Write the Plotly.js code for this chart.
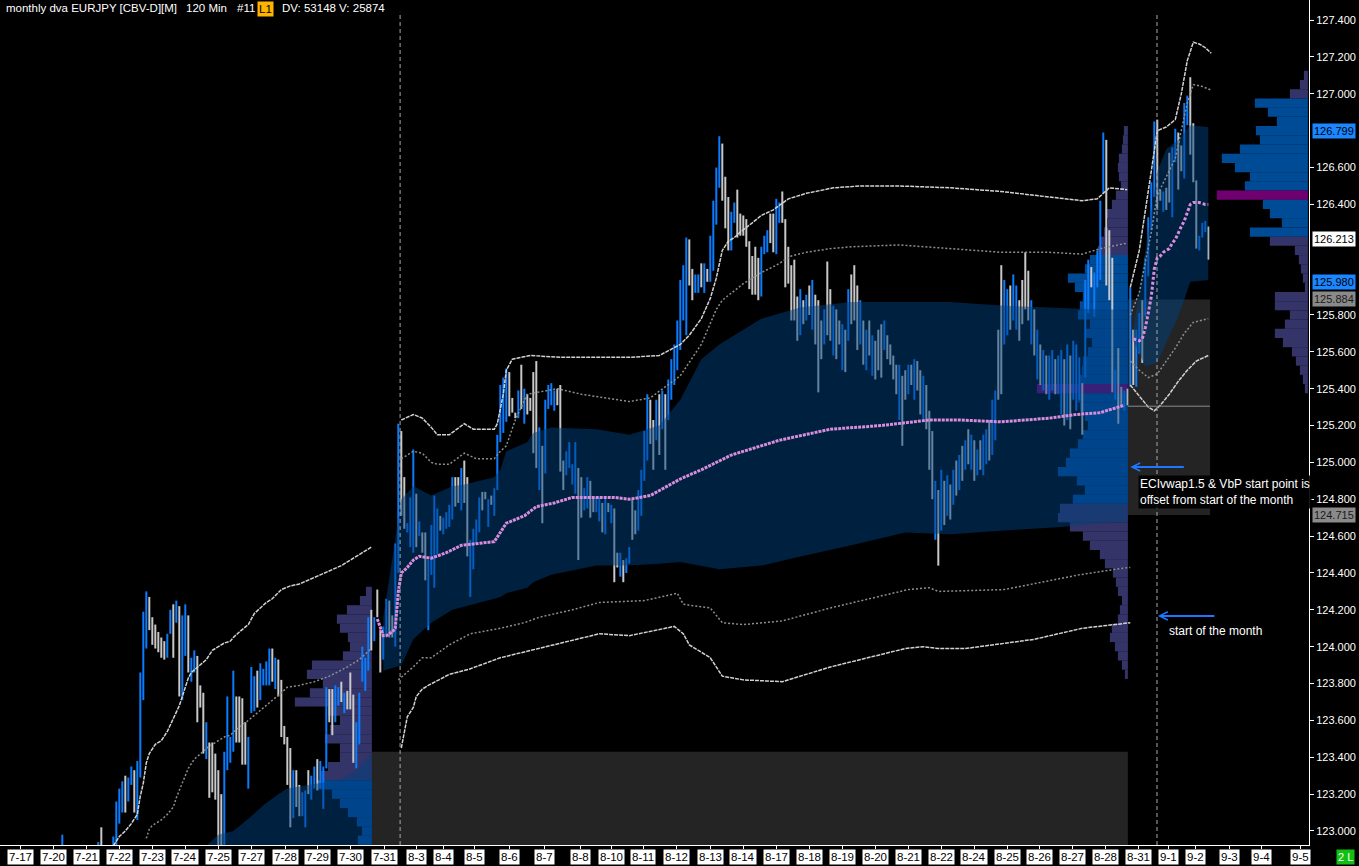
<!DOCTYPE html>
<html><head><meta charset="utf-8">
<script src="https://cdn.plot.ly/plotly-3.0.1.min.js"></script>
<style>html,body{margin:0;padding:0;background:#000;}#chart{width:1359px;height:866px;}</style>
</head><body><div id="chart"></div>
<script>
// ---------- DATA ----------
// x positions are 120-minute bar slots (bar index)
const dateLabels = ['7-17','7-20','7-21','7-22','7-23','7-24','7-25','7-27','7-28','7-29','7-30','7-31','8-3','8-4','8-5','8-6','8-7','8-8','8-10','8-11','8-12','8-13','8-14','8-17','8-18','8-19','8-20','8-21','8-22','8-24','8-25','8-26','8-27','8-28','8-31','9-1','9-2','9-3','9-4','9-5'];
const dateSlots = [5.9,17.1,28.2,39.1,50.1,60.9,72.1,83.2,94.5,105.2,116.0,127.5,137.9,146.9,157.4,168.9,180.6,192.6,203.1,213.6,224.6,235.9,246.9,257.9,268.9,279.9,291.2,302.1,312.9,323.9,335.2,345.9,356.9,367.9,378.9,388.9,397.6,409.0,419.9,432.6];
// price ticks shown on the axis (others are covered by the highlighted labels)
const priceTicks = [123.0,123.2,123.4,123.6,123.8,124.0,124.2,124.4,124.6,124.8,125.0,125.2,125.4,125.6,125.8,126.4,126.6,127.0,127.2,127.4];

const firstBarSlot = 20;
const barHigh = [
122.98,null,null,null,null,null,null,null,null,null,null,null,122.94,123.02,null,null,null,
122.97,123.16,123.23,123.27,123.30,123.29,123.35,123.33,123.38,123.86,
124.19,124.30,124.27,124.16,124.12,124.08,124.05,124.03,124.07,124.20,
124.23,124.25,124.22,124.17,124.23,124.17,123.94,123.98,123.95,123.79,
123.75,123.59,123.48,123.48,123.42,123.33,123.20,123.43,123.73,123.51,
123.87,123.73,123.73,123.72,123.59,123.51,123.89,123.84,123.87,123.91,
123.88,123.92,123.99,123.99,123.94,123.93,123.82,123.57,123.51,123.45,
123.33,123.33,123.25,123.21,123.22,123.33,123.30,123.35,123.39,123.38,
123.35,123.78,123.77,123.77,123.79,123.78,123.81,123.75,123.76,123.86,
123.74,123.59,123.75,124.00,123.94,124.16,124.20,124.16,124.31,124.09,
124.11,124.26,124.25,124.17,124.56,125.21,125.17,124.92,124.67,124.81,
125.07,124.83,124.68,124.62,124.62,124.47,124.66,124.82,124.75,124.71,
124.70,124.73,124.77,124.92,124.92,124.92,124.97,125.01,124.92,124.58,
124.64,124.69,124.81,124.84,124.84,124.80,124.82,124.86,125.15,125.42,
125.46,125.51,125.49,125.35,125.27,125.39,125.53,125.40,125.37,125.35,
125.49,125.55,125.19,125.09,125.34,125.42,125.43,125.39,125.40,125.42,
125.01,125.06,125.11,124.99,125.11,124.97,124.92,124.86,124.92,124.90,
124.81,124.81,124.81,124.78,124.81,124.78,124.77,124.75,124.51,124.51,
124.47,124.48,124.54,124.80,124.74,124.85,124.96,125.17,125.37,125.34,
125.23,125.34,125.37,125.39,125.37,125.45,125.56,125.64,125.77,125.99,
126.07,126.22,126.21,126.05,126.02,126.02,126.08,126.08,126.05,126.23,
126.42,126.60,126.77,126.73,126.55,126.44,126.36,126.41,126.48,126.35,
126.34,126.32,126.20,126.12,126.17,126.11,126.17,126.23,126.26,126.35,
126.35,126.43,126.41,126.47,126.32,126.17,126.07,126.10,125.90,125.94,
125.88,125.91,125.96,125.99,125.91,125.88,125.77,125.83,126.09,125.94,
125.85,125.83,125.77,125.75,125.72,125.94,126.02,126.07,125.96,125.88,
125.77,125.72,125.77,125.69,125.66,125.72,125.75,125.77,125.69,125.64,
125.58,125.53,125.53,125.47,125.50,125.53,125.53,125.56,125.55,125.50,
125.47,125.42,125.28,125.17,124.90,124.85,124.96,124.90,124.93,124.88,
124.96,125.01,125.04,125.09,125.12,125.18,125.15,125.12,125.07,125.12,
125.15,125.18,125.23,125.34,125.39,125.72,126.07,125.99,125.94,125.96,
126.02,125.96,125.88,125.99,126.14,126.04,125.88,125.83,125.72,125.64,
125.61,125.58,125.58,125.61,125.56,125.58,125.61,125.56,125.64,125.58,
125.66,125.64,125.57,125.43,125.99,126.10,126.06,126.03,126.15,126.42,
126.79,126.75,126.26,126.11,125.50,125.62,125.41,125.39,125.40,125.95,
125.72,125.72,125.81,125.88,126.11,126.33,126.52,126.85,126.86,126.48,
126.47,126.49,126.68,126.71,126.81,126.79,126.72,126.95,126.99,127.09,
126.84,126.53,126.23,126.30,126.31,126.28];
const barLow = [
122.90,null,null,null,null,null,null,null,null,null,null,null,122.90,122.90,null,null,null,
122.90,122.90,123.04,123.10,123.10,123.16,123.25,123.10,123.06,123.29,
123.71,123.99,124.09,124.01,123.99,123.97,123.94,123.93,123.94,124.07,
123.94,124.13,123.73,123.71,123.95,123.86,123.81,123.86,123.59,123.67,
123.42,123.39,123.18,123.21,123.17,122.90,122.90,122.90,123.33,123.37,
123.43,123.48,123.48,123.36,123.36,123.23,123.64,123.65,123.67,123.71,
123.79,123.79,123.79,123.81,123.77,123.73,123.51,123.47,123.25,123.02,
123.07,123.13,123.08,123.08,123.02,123.20,123.17,123.23,123.22,123.23,
123.12,123.34,123.59,123.52,123.59,123.68,123.70,123.64,123.66,123.66,
123.37,123.34,123.47,123.81,123.76,123.87,123.98,124.03,124.16,123.86,
123.93,124.06,124.05,124.05,124.00,124.40,124.71,124.64,124.62,124.54,
124.51,124.54,124.60,124.51,124.36,124.09,124.39,124.32,124.50,124.63,
124.61,124.64,124.65,124.69,124.76,124.78,124.74,124.78,124.49,124.27,
124.42,124.56,124.62,124.74,124.80,124.65,124.77,124.71,124.85,125.11,
125.16,125.22,125.25,125.27,125.24,125.24,125.29,125.21,125.26,125.28,
125.05,124.97,124.85,124.67,124.94,125.29,125.31,125.28,125.31,124.95,
124.85,124.93,124.97,124.88,124.83,124.47,124.70,124.74,124.75,124.70,
124.73,124.73,124.68,124.62,124.61,124.73,124.67,124.35,124.43,124.38,
124.35,124.40,124.45,124.58,124.61,124.63,124.71,124.90,125.01,125.10,
124.96,125.12,125.04,125.18,124.96,125.23,125.34,125.42,125.50,125.61,
125.77,125.69,125.96,125.88,125.92,125.92,125.95,125.92,125.98,125.98,
126.04,126.29,126.49,126.42,126.27,126.15,126.15,126.30,126.22,126.23,
126.23,126.17,125.94,125.91,125.91,125.88,125.90,126.13,126.14,126.19,
126.14,126.13,126.30,126.30,125.95,125.97,125.77,125.77,125.66,125.69,
125.75,125.77,125.80,125.72,125.64,125.38,125.56,125.64,125.69,125.66,
125.58,125.56,125.64,125.50,125.49,125.66,125.75,125.77,125.61,125.64,
125.53,125.50,125.58,125.47,125.45,125.50,125.46,125.61,125.56,125.53,
125.45,125.37,125.23,125.09,125.34,125.37,125.42,125.34,125.39,125.26,
125.23,125.18,124.96,124.80,124.58,124.44,124.63,124.66,124.71,124.69,
124.77,124.82,124.85,124.90,124.96,124.99,124.96,124.90,124.93,124.96,
124.93,124.99,125.01,125.04,125.12,125.34,125.37,125.64,125.69,125.72,
125.77,125.72,125.66,125.75,125.83,125.77,125.64,125.58,125.45,125.42,
125.39,125.37,125.34,125.39,125.37,125.37,125.26,125.20,125.23,125.18,
125.34,125.28,125.34,125.15,125.46,125.81,125.95,125.79,125.95,125.99,
126.46,125.96,125.88,125.38,125.34,125.21,125.31,125.28,125.31,125.41,
125.42,125.41,125.59,125.54,125.79,126.01,126.26,126.44,126.37,126.42,
126.36,126.37,126.41,126.33,126.63,126.48,126.58,126.54,126.83,126.67,
126.52,126.16,126.15,126.22,126.25,126.10];
// 1 = up bar (blue), 0 = down bar (grey)
const barUp = [
1,0,0,0,0,0,0,0,0,0,0,0,1,0,0,0,0,
1,1,1,1,0,1,1,0,1,1, 1,1,0,0,0,0,0,0,1,1, 0,1,0,1,1,0,1,1,0,0, 0,1,0,0,0,0,0,1,1,1,
1,0,0,0,0,1,1,1,0,1, 1,1,1,0,1,0,0,0,0,0, 1,0,0,1,1,0,1,1,0,1, 1,1,0,0,1,1,0,1,0,0,
0,1,1,1,1,1,0,1,0,0, 1,1,0,0,1,1,0,0,1,1, 1,0,1,0,0,1,1,1,1,0, 1,1,1,1,0,0,1,0,0,1,
1,1,1,0,0,1,0,1,1,1, 1,1,0,0,0,1,0,1,0,0, 0,0,1,0,1,1,1,1,0,0, 0,1,1,1,1,0,0,1,1,0,
0,1,1,0,1,0,1,0,0,1, 0,1,1,0,0,1,1,1,1,0, 0,1,0,1,0,1,1,1,1,1, 1,1,0,0,1,1,0,1,0,1,
1,1,1,0,0,0,1,1,0,0, 0,0,0,0,0,0,1,1,1,0, 0,1,1,0,0,0,0,0,0,1, 0,1,0,1,0,0,0,1,0,0,
1,0,0,1,0,1,0,0,0,1, 0,1,0,1,0,0,0,1,0,0, 0,0,1,0,0,1,0,1,0,0, 1,0,0,0,1,0,1,0,1,0,
1,0,1,0,1,0,1,0,1,0, 1,1,0,1,1,0,0,1,1,0, 1,1,0,0,0,0,1,0,1,0, 1,0,1,1,0,1,1,0,1,0,
1,1,1,0,1,1,0,1,1,1, 1,0,0,0,1,0,0,1,0,1, 0,1,1,0,1,1,1,1,0,0, 1,0,0,1,1,0,0,1,1,0,
0,0,1,1,1,0];

// July (previous month) deviation bands
const julOuterSlot = [37,39,41,43,45,46,47,48,49,51,53,55,57,58,59,61,62,63,65,67,68,70,72,74,76,77,79,82,84,86,88,90,93,96,99,106,113,120,123];
const julOuterVal = [122.92,122.97,123.00,123.04,123.09,123.19,123.26,123.37,123.42,123.47,123.49,123.54,123.61,123.65,123.68,123.78,123.83,123.86,123.89,123.92,123.93,123.98,124.00,124.02,124.03,124.05,124.08,124.12,124.18,124.21,124.24,124.26,124.31,124.33,124.34,124.39,124.44,124.51,124.54];
const julInnerSlot = [48,49,50,53,55,57,58,59,60,62,64,67,69,72,74,76,78,82,85,88,90,93,95,99,104,109,115,119,123];
const julInnerVal = [122.96,123.01,123.03,123.06,123.09,123.13,123.18,123.22,123.27,123.34,123.39,123.43,123.46,123.49,123.51,123.52,123.55,123.60,123.64,123.68,123.71,123.75,123.78,123.79,123.81,123.84,123.89,123.93,123.99];
const julFillSlot = [68,72,77,83,87,92,95,99,106,113,118,122,123];
const julFillTop = [122.92,122.98,123.00,123.08,123.14,123.20,123.23,123.24,123.26,123.28,123.33,123.40,123.42];

// August ECI vwap and bands
const augVwapSlot = [125,127,128,130,131,132,133,135,137,139,143,148,153,158,164,168,174,178,184,190,204,209,216,226,233,243,253,259,276,293,309,319,333,349,358,366,374];
const augVwapVal = [124.15,124.06,124.06,124.08,124.10,124.30,124.40,124.43,124.47,124.49,124.48,124.51,124.55,124.56,124.57,124.67,124.71,124.76,124.78,124.81,124.81,124.80,124.82,124.91,124.96,125.04,125.09,125.12,125.18,125.20,125.23,125.23,125.22,125.24,125.26,125.27,125.31];
const augOuterUpSlot = [133,137,140,143,145,149,154,157,164,165,167,168,170,176,186,199,209,219,226,229,233,236,237,238,240,242,244,246,250,253,257,262,268,277,286,299,316,333,349,360,365,369,375];
const augOuterUpVal = [125.23,125.26,125.24,125.19,125.15,125.15,125.21,125.18,125.18,125.21,125.37,125.50,125.56,125.58,125.57,125.57,125.57,125.58,125.64,125.69,125.78,125.89,125.94,126.00,126.15,126.20,126.22,126.25,126.30,126.34,126.37,126.43,126.46,126.49,126.50,126.50,126.49,126.47,126.44,126.42,126.43,126.49,126.48];
const augInnerUpSlot = [133,137,140,143,145,149,154,158,164,166,168,171,175,185,193,209,216,226,233,238,240,247,253,258,263,268,276,283,299,316,333,349,360,366,375];
const augInnerUpVal = [125.02,125.06,125.05,125.00,124.99,124.99,125.05,125.02,125.02,125.06,125.09,125.23,125.37,125.40,125.37,125.33,125.35,125.47,125.64,125.83,125.88,125.97,126.03,126.07,126.12,126.14,126.16,126.17,126.18,126.16,126.14,126.14,126.13,126.16,126.19];
const augInnerLowSlot = [132,135,137,140,143,149,156,166,174,179,190,199,214,225,227,236,240,247,260,276,302,309,312,334,359,371,376];
const augInnerLowVal = [123.82,123.86,123.89,123.94,123.94,124.01,124.07,124.10,124.13,124.16,124.20,124.24,124.25,124.29,124.23,124.21,124.13,124.12,124.14,124.21,124.31,124.32,124.30,124.31,124.39,124.42,124.43];
const augOuterLowSlot = [133,135,137,138,140,142,149,156,166,176,186,199,209,224,227,229,236,240,247,260,276,301,307,312,321,344,360,366,376];
const augOuterLowVal = [123.45,123.62,123.67,123.73,123.77,123.79,123.85,123.88,123.94,123.98,124.02,124.07,124.06,124.11,124.07,124.01,123.94,123.84,123.82,123.81,123.89,123.99,124.00,123.99,123.99,124.04,124.10,124.11,124.13];
const augFillSlot = [127,133,137,143,150,154,164,166,168,175,177,183,198,209,219,226,233,239,253,266,283,301,316,334,353,366,375];
const augFillTop = [124.16,124.80,124.87,124.82,124.87,124.88,124.92,124.96,125.06,125.11,125.16,125.19,125.18,125.15,125.20,125.34,125.56,125.64,125.78,125.84,125.87,125.87,125.87,125.85,125.84,125.83,125.83];
const augFillBottom = [123.87,123.90,124.04,124.13,124.20,124.22,124.26,124.27,124.29,124.32,124.35,124.39,124.44,124.44,124.45,124.46,124.44,124.42,124.44,124.49,124.55,124.62,124.61,124.63,124.65,124.67,124.68];

// September ECI vwap and bands
const sepVwapSlot = [377,379,380,381,382,383,384,385,386,387,389,390,391,392,393,394,395,396,397,399,401,402];
const sepVwapVal = [125.67,125.66,125.67,125.73,125.81,125.90,126.05,126.11,126.12,126.14,126.16,126.19,126.21,126.25,126.28,126.31,126.35,126.40,126.41,126.41,126.40,126.40];
const sepOuterUpSlot = [376,379,383,385,388,391,393,395,397,399,401,403];
const sepOuterUpVal = [125.95,126.15,126.58,126.80,126.82,126.86,127.00,127.18,127.28,127.27,127.25,127.22];
const sepInnerUpSlot = [376,379,383,385,388,391,393,395,397,400,403];
const sepInnerUpVal = [125.80,125.92,126.25,126.45,126.55,126.65,126.80,126.95,127.05,127.04,127.02];
const sepInnerLowSlot = [376,379,382,385,388,391,394,397,402];
const sepInnerLowVal = [125.55,125.50,125.46,125.48,125.55,125.62,125.70,125.76,125.78];
const sepOuterLowSlot = [376,379,382,384,386,389,392,395,398,402];
const sepOuterLowVal = [125.42,125.36,125.30,125.28,125.31,125.37,125.44,125.50,125.55,125.58];
const sepFillSlot = [377,381,385,388,392,394,396,402];
const sepFillTop = [125.72,126.15,126.58,126.70,126.75,126.79,126.83,126.82];
const sepFillBottom = [125.66,125.52,125.54,125.65,125.79,125.88,125.98,125.99];

// Volume-by-price profiles
const julProfAnchor = 123.2;
const julProfPrice = [124.30,124.25,124.20,124.15,124.10,124.05,124.00,123.95,123.90,123.85,123.80,123.75,123.70,123.65,123.60,123.55,123.50,123.45,123.40,123.35,123.30,123.25,123.20,123.15,123.10,123.05,123.00,122.95];
const julProfVol = [6,12,25,35,32,24,22,29,60,65,49,62,77,44,32,42,47,32,32,44,52,54,40,32,24,15,10,14];
const julValueArea = [122.90,123.25];
const julPoc = null;

const augProfAnchor = 375.2;
const augProfPrice = [126.80,126.75,126.70,126.65,126.60,126.55,126.50,126.45,126.40,126.35,126.30,126.25,126.20,126.15,126.10,126.05,126.00,125.95,125.90,125.85,125.80,125.75,125.70,125.65,125.60,125.55,125.50,125.45,125.40,125.35,125.30,125.25,125.20,125.15,125.10,125.05,125.00,124.95,124.90,124.85,124.80,124.75,124.70,124.65,124.60,124.55,124.50,124.45,124.40,124.35,124.30,124.25,124.20,124.15,124.10,124.05,124.00,123.95,123.90,123.85];
const augProfVol = [4,5,6,9,10,9,7,12,16,22,20,24,28,30,38,43,60,53,45,48,50,38,42,36,40,45,46,48,91,50,48,43,40,45,50,58,62,70,51,43,55,68,70,58,45,38,28,23,15,12,10,6,8,10,16,18,13,10,6,3];
const augValueArea = [124.80,126.10];
const augPoc = 125.40;

const sepProfAnchor = 435.2;
const sepProfPrice = [127.10,127.05,127.00,126.95,126.90,126.85,126.80,126.75,126.70,126.65,126.60,126.55,126.50,126.45,126.40,126.35,126.30,126.25,126.20,126.15,126.10,126.05,126.00,125.95,125.90,125.85,125.80,125.75,125.70,125.65,125.60,125.55,125.50,125.45,125.40];
const sepProfVol = [4,8,18,53,40,31,52,48,68,86,73,58,63,91,45,38,26,58,38,13,9,7,5,3,33,33,18,23,33,25,16,12,8,5,3];
const sepValueArea = [126.25,126.95];
const sepPoc = 126.45;

// Shaded ranges, reference line, month starts
const shadeStart = [123.2, 375.2];
const shadeEnd = [375.2, 402.6];
const shadeLow = [122.90, 124.715];
const shadeHigh = [123.43, 125.884];
const refLevel = 125.305;
const monthStartSlots = [132.6, 384.9];

// Highlighted price labels on the axis
const markPrice = [126.799, 126.213, 125.980, 125.884, 124.715];
const markKind = ['blue','white','blue','grey','grey'];

// ---------- STYLE ----------
const FONT = 'Liberation Sans, Arial, sans-serif';
const volScale = 1/3;
const markBg = {blue:'#1a86ff', white:'#ffffff', grey:'#8a8a8a'};
const markFg = {blue:'#000000', white:'#000000', grey:'#1a1a1a'};
const COL_VA = 'rgba(0,100,200,0.75)';
const COL_OUT = 'rgba(64,64,128,0.82)';
const COL_POC = 'rgba(128,0,128,0.88)';
const FILL = 'rgba(0,64,128,0.5)';

// ---------- TRACES ----------
const traces = [];
function line(x, y, color, width, dash){
  return {type:'scatter', mode:'lines', x, y, line:{color, width, dash}, hoverinfo:'skip', showlegend:false};
}
function band(slots, top, bottom){
  return {type:'scatter', mode:'lines', x: slots.concat(slots.slice().reverse()), y: top.concat(bottom.slice().reverse()),
    fill:'toself', fillcolor:FILL, line:{width:0}, hoverinfo:'skip', showlegend:false};
}
traces.push({type:'scatter', mode:'lines', x:julFillSlot, y:julFillTop, fill:'tozeroy', fillcolor:FILL, line:{width:0}, hoverinfo:'skip', showlegend:false});
traces.push(band(augFillSlot, augFillTop, augFillBottom));
traces.push(band(sepFillSlot, sepFillTop, sepFillBottom));

const OUTER = '#d2d2d2', INNER = '#8e8e8e', VWAP = '#d98cd9';
[[julOuterSlot,julOuterVal],[augOuterUpSlot,augOuterUpVal],[augOuterLowSlot,augOuterLowVal],[sepOuterUpSlot,sepOuterUpVal],[sepOuterLowSlot,sepOuterLowVal]]
  .forEach(([x,y]) => traces.push(line(x, y, OUTER, 1.5, '4px,1px')));
[[julInnerSlot,julInnerVal],[augInnerUpSlot,augInnerUpVal],[augInnerLowSlot,augInnerLowVal],[sepInnerUpSlot,sepInnerUpVal],[sepInnerLowSlot,sepInnerLowVal]]
  .forEach(([x,y]) => traces.push(line(x, y, INNER, 1.5, '2px,2px')));
traces.push(line(augVwapSlot, augVwapVal, VWAP, 3, '3px,1px'));
traces.push(line(sepVwapSlot, sepVwapVal, VWAP, 3, '3px,2px'));

function profile(prices, vols, anchor, va, poc){
  return {type:'bar', orientation:'h', y:prices, x:vols.map(v => -v*volScale), base:anchor, width:0.05,
    marker:{color: prices.map(p => (poc !== null && Math.abs(p-poc) < 1e-6) ? COL_POC : ((p >= va[0]-1e-6 && p <= va[1]+1e-6) ? COL_VA : COL_OUT)), line:{width:0}},
    hoverinfo:'skip', showlegend:false};
}
traces.push(profile(julProfPrice, julProfVol, julProfAnchor, julValueArea, julPoc));
traces.push(profile(augProfPrice, augProfVol, augProfAnchor, augValueArea, augPoc));
traces.push(profile(sepProfPrice, sepProfVol, sepProfAnchor, sepValueArea, sepPoc));

const barSlots = barHigh.map((_, i) => firstBarSlot + i);
traces.push({type:'ohlc', x:barSlots,
  open: barHigh.map((h, i) => barUp[i] ? barLow[i] : h),
  close: barHigh.map((h, i) => barUp[i] ? h : barLow[i]),
  high: barHigh, low: barLow, tickwidth:0,
  increasing:{line:{color:'#0a7cff', width:2}}, decreasing:{line:{color:'#c8c8c8', width:2}},
  hoverinfo:'skip', showlegend:false});

// ---------- SHAPES ----------
const shapes = [];
shadeStart.forEach((s, i) => shapes.push({type:'rect', xref:'x', yref:'y', x0:s, x1:shadeEnd[i], y0:shadeLow[i], y1:shadeHigh[i],
  fillcolor:'rgba(128,128,128,0.28)', line:{width:0}, layer:'below'}));
shapes.push({type:'line', xref:'x', yref:'y', x0:shadeStart[1], x1:shadeEnd[1], y0:refLevel, y1:refLevel, line:{color:'#8c8c8c', width:1}, layer:'above'});
monthStartSlots.forEach(s => shapes.push({type:'line', xref:'x', yref:'paper', x0:s, x1:s, y0:0, y1:0.986, line:{color:'#a8a8a8', width:1, dash:'4px,3px'}, layer:'above'}));

// ---------- ANNOTATIONS ----------
const ann = [];
dateLabels.forEach((t, i) => ann.push({x:dateSlots[i], xref:'x', y:0, yref:'paper', yanchor:'top', yshift:-4, text:t, showarrow:false,
  bgcolor:'#ffffff', font:{color:'#000', size:11.5, family:FONT}, borderpad:1}));
markPrice.forEach((p, i) => ann.push({x:1, xref:'paper', xanchor:'left', xshift:3, y:p, yref:'y', yanchor:'middle', text:p.toFixed(3), showarrow:false,
  bgcolor:markBg[markKind[i]], font:{color:markFg[markKind[i]], size:11, family:FONT}, borderpad:1}));
ann.push({x:1, xref:'paper', xanchor:'left', xshift:27, y:0, yref:'paper', yanchor:'top', yshift:-4, text:'2 L', showarrow:false,
  bgcolor:'#12c012', font:{color:'#fff', size:11, family:FONT}, borderpad:1});
const titleParts = [[5,'monthly dva EURJPY [CBV-D][M]',null],[185,'120 Min',null],[236,'#11',null],[257,'L1','#ffb400'],[281,'DV: 53148 V: 25874',null]];
titleParts.forEach(([px, t, bg]) => ann.push({x:px/1309, xref:'paper', xanchor:'left', y:1, yref:'paper', yanchor:'top', yshift:-1, text:t, showarrow:false,
  bgcolor: bg || 'rgba(0,0,0,0)', font:{color: bg ? '#000' : '#fff', size:11.5, family:FONT}, borderpad: bg ? 1 : 0}));
// arrows
ann.push({x:376, y:124.975, xref:'x', yref:'y', ax:55, ay:0, text:'', showarrow:true, arrowhead:5, arrowsize:0.8, arrowwidth:2, arrowcolor:'#1e78ff'});
ann.push({x:385.2, y:124.167, xref:'x', yref:'y', ax:58, ay:0, text:'', showarrow:true, arrowhead:5, arrowsize:0.8, arrowwidth:2, arrowcolor:'#1e78ff'});
ann.push({x:378.6, y:124.839, xref:'x', yref:'y', xanchor:'left', yanchor:'middle', align:'left', showarrow:false,
  text:'ECIvwap1.5 &amp; VbP start point is<br>offset from start of the month', bgcolor:'rgba(0,0,0,0.9)', font:{color:'#fff', size:12, family:FONT}, borderpad:1});
ann.push({x:388.2, y:124.085, xref:'x', yref:'y', xanchor:'left', yanchor:'middle', showarrow:false,
  text:'start of the month', font:{color:'#fff', size:12, family:FONT}});

const layout = {
  width:1359, height:866, margin:{l:0, r:50, t:0, b:21, pad:0},
  paper_bgcolor:'#000', plot_bgcolor:'#000', showlegend:false, hovermode:false, barmode:'overlay',
  xaxis:{range:[-0.77, 435.57], showgrid:false, zeroline:false, showline:true, linecolor:'#fff', linewidth:1,
    tickmode:'array', tickvals:dateSlots, ticks:'outside', ticklen:3, tickcolor:'#fff', showticklabels:false,
    rangeslider:{visible:false}, fixedrange:true},
  yaxis:{range:[122.924, 127.509], side:'right', showgrid:false, zeroline:false, showline:true, linecolor:'#fff', linewidth:1,
    tickmode:'array', tickvals:priceTicks, ticktext:priceTicks.map(v => v.toFixed(3)), ticks:'outside', ticklen:4, tickcolor:'#fff',
    tickfont:{color:'#fff', size:11, family:FONT}, fixedrange:true},
  shapes, annotations:ann
};
Plotly.newPlot('chart', traces, layout, {displayModeBar:false, staticPlot:true});
</script></body></html>
